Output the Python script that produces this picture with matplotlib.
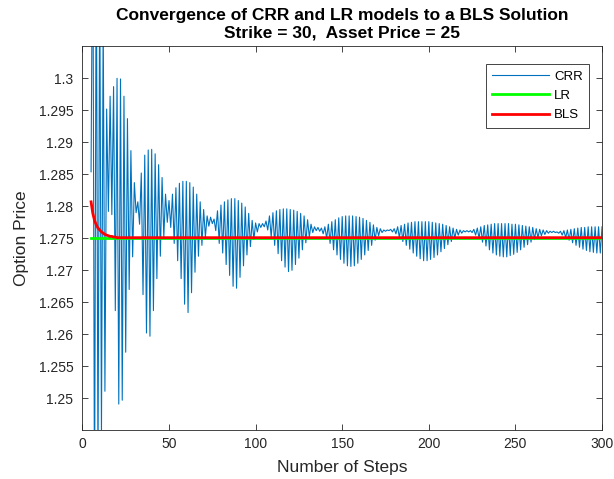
import numpy as np
import matplotlib.pyplot as plt

plt.rcParams['font.family'] = ['Liberation Sans', 'DejaVu Sans']

# number of binomial steps used for each price
steps = np.arange(5, 301)

# Cox-Ross-Rubinstein tree prices, one per step count (5..300)
crr_price = [
    1.2854, 1.3300, 1.2300, 1.3250, 1.2380, 1.3180, 1.2440, 1.3100, 1.2511, 1.2952,
    1.2792, 1.2972, 1.2787, 1.2987, 1.2637, 1.3000, 1.2491, 1.2999, 1.2497, 1.2972,
    1.2572, 1.2937, 1.2670, 1.2887, 1.2721, 1.2837, 1.2790, 1.2807, 1.2772, 1.2852,
    1.2662, 1.2880, 1.2602, 1.2888, 1.2597, 1.2889, 1.2637, 1.2882, 1.2687, 1.2865,
    1.2722, 1.2845, 1.2752, 1.2819, 1.2775, 1.2809, 1.2767, 1.2819, 1.2742, 1.2829,
    1.2715, 1.2836, 1.2687, 1.2839, 1.2647, 1.2839, 1.2634, 1.2837, 1.2665, 1.2830,
    1.2697, 1.2819, 1.2722, 1.2807, 1.2739, 1.2795, 1.2752, 1.2785, 1.2769, 1.2783,
    1.2773, 1.2780, 1.2762, 1.2793, 1.2742, 1.2802, 1.2727, 1.2807, 1.2709, 1.2810,
    1.2692, 1.2812, 1.2675, 1.2812, 1.2672, 1.2809, 1.2689, 1.2805, 1.2707, 1.2799,
    1.2724, 1.2789, 1.2737, 1.2778, 1.2748, 1.2774, 1.2760, 1.2773, 1.2767, 1.2773,
    1.2768, 1.2777, 1.2763, 1.2785, 1.2752, 1.2790, 1.2739, 1.2793, 1.2726, 1.2795,
    1.2715, 1.2796, 1.2705, 1.2796, 1.2698, 1.2795, 1.2700, 1.2794, 1.2709, 1.2792,
    1.2719, 1.2789, 1.2732, 1.2785, 1.2743, 1.2779, 1.2752, 1.2772, 1.2759, 1.2768,
    1.2762, 1.2767, 1.2761, 1.2766, 1.2757, 1.2768, 1.2750, 1.2772, 1.2742, 1.2776,
    1.2732, 1.2779, 1.2724, 1.2782, 1.2717, 1.2784, 1.2711, 1.2785, 1.2707, 1.2785,
    1.2706, 1.2785, 1.2707, 1.2784, 1.2711, 1.2783, 1.2717, 1.2781, 1.2724, 1.2778,
    1.2731, 1.2775, 1.2739, 1.2771, 1.2747, 1.2767, 1.2754, 1.2765, 1.2759, 1.2763,
    1.2761, 1.2763, 1.2762, 1.2764, 1.2760, 1.2765, 1.2757, 1.2768, 1.2751, 1.2770,
    1.2745, 1.2772, 1.2739, 1.2774, 1.2733, 1.2775, 1.2727, 1.2776, 1.2722, 1.2776,
    1.2718, 1.2776, 1.2715, 1.2776, 1.2715, 1.2776, 1.2717, 1.2775, 1.2720, 1.2774,
    1.2724, 1.2773, 1.2729, 1.2772, 1.2734, 1.2770, 1.2740, 1.2768, 1.2745, 1.2766,
    1.2750, 1.2764, 1.2755, 1.2763, 1.2758, 1.2762, 1.2760, 1.2762, 1.2760, 1.2762,
    1.2759, 1.2764, 1.2755, 1.2766, 1.2750, 1.2768, 1.2744, 1.2770, 1.2738, 1.2771,
    1.2732, 1.2772, 1.2727, 1.2773, 1.2724, 1.2773, 1.2722, 1.2773, 1.2721, 1.2773,
    1.2721, 1.2773, 1.2723, 1.2772, 1.2725, 1.2772, 1.2728, 1.2771, 1.2732, 1.2770,
    1.2736, 1.2769, 1.2740, 1.2768, 1.2744, 1.2767, 1.2748, 1.2765, 1.2751, 1.2764,
    1.2754, 1.2763, 1.2756, 1.2762, 1.2758, 1.2761, 1.2759, 1.2761, 1.2759, 1.2760,
    1.2758, 1.2761, 1.2755, 1.2762, 1.2751, 1.2763, 1.2747, 1.2764, 1.2743, 1.2765,
    1.2739, 1.2766, 1.2736, 1.2767, 1.2733, 1.2767, 1.2731, 1.2768, 1.2729, 1.2768,
    1.2728, 1.2768, 1.2727, 1.2768, 1.2727, 1.2768,
]

# Leisen-Reimer prices (flat at this scale)
lr_price = [1.2750] * len(steps)

# Black-Scholes reference curve
bls_head = [1.2807, 1.2789, 1.2778, 1.2771, 1.2766, 1.2763, 1.2760, 1.2758, 1.2756,
            1.2755, 1.2754, 1.2753, 1.2753, 1.2752, 1.2752]
bls_price = bls_head + [1.2751] * (len(steps) - len(bls_head))

ytick_vals = [1.25, 1.255, 1.26, 1.265, 1.27, 1.275, 1.28, 1.285, 1.29, 1.295, 1.3]

fig = plt.figure(figsize=(6.14, 4.79), dpi=100)
ax = fig.add_axes([0.1342, 0.1017, 0.8463, 0.8016])

ax.plot(steps, crr_price, color='#0072BD', lw=0.8, label='CRR')
ax.plot(steps, lr_price, color='#00FF00', lw=2, label='LR')
ax.plot(steps, bls_price, color='#FF0000', lw=2, label='BLS')

ax.set_xlim(0, 300)
ax.set_ylim(1.245, 1.305)
ax.set_xticks(range(0, 301, 50))
ax.set_yticks(ytick_vals)
ax.set_yticklabels(['%g' % v for v in ytick_vals])

ax.tick_params(direction='in', top=True, right=True, length=4, width=0.6,
               colors='#262626', labelsize=10)
ax.tick_params(axis='y', pad=6.5)
ax.tick_params(axis='x', pad=5)
for s in ax.spines.values():
    s.set_color('#262626')
    s.set_linewidth(0.6)

ax.set_xlabel('Number of Steps', fontsize=12.5, color='#262626', labelpad=6)
ax.set_ylabel('Option Price', fontsize=12.5, color='#262626', labelpad=7)
ax.set_title('Convergence of CRR and LR models to a BLS Solution\nStrike = 30,  Asset Price = 25',
             fontsize=12.5, fontweight='bold', color='black', linespacing=1.25, pad=6)

leg = ax.legend(loc='upper right', bbox_to_anchor=(589 / 614, 1 - 64 / 479),
                bbox_transform=fig.transFigure, borderaxespad=0,
                fontsize=9.5, handlelength=4.3, handletextpad=0.4, fancybox=False,
                framealpha=1, edgecolor='#262626', labelspacing=0.54, borderpad=0.48)
leg.get_frame().set_linewidth(0.6)

fig.savefig('out.png', dpi=100)
